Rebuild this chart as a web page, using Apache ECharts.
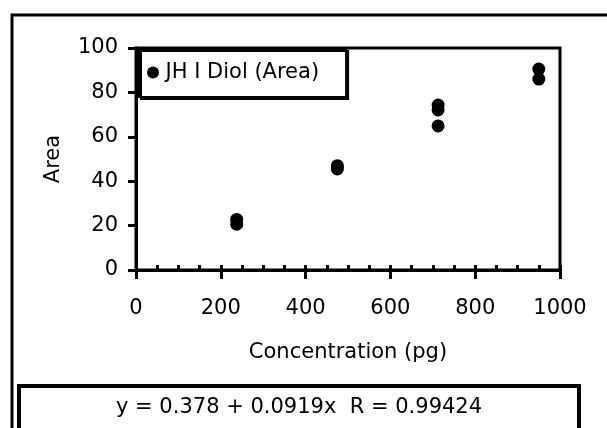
<!DOCTYPE html>
<html>
<head>
<meta charset="utf-8">
<script src="https://cdn.jsdelivr.net/npm/echarts@6/dist/echarts.min.js"></script>
<style>
  html, body { margin: 0; padding: 0; background: #fff; }
  #chart { width: 607px; height: 428px; }
</style>
</head>
<body>
<div id="chart"></div>
<script>
// concentrations (pg) and measured areas, replicates per level
const concentration = [237.5, 237.5, 475, 475, 712.5, 712.5, 712.5, 950, 950];
const area = [22.8, 20.6, 47.0, 45.5, 74.3, 72.1, 64.9, 90.5, 86.0];
const seriesName = 'JH I Diol (Area)';
const fitText = 'y = 0.378 + 0.0919x  R = 0.99424';

const font = 'DejaVu Sans';
const chart = echarts.init(document.getElementById('chart'));

chart.setOption({
  backgroundColor: '#fff',
  animation: false,
  textStyle: { fontFamily: font, color: '#000' },
  // outer frame of the chart, right side runs off the picture
  graphic: [
    {
      type: 'rect',
      shape: { x: 12, y: 15, width: 700, height: 500 },
      style: { fill: 'none', stroke: '#000', lineWidth: 3 },
      z: 0
    }
  ],
  title: {
    text: fitText,
    left: 19,
    top: 386,
    padding: [11, 97, 40, 97],
    borderColor: '#000',
    borderWidth: 4,
    backgroundColor: '#fff',
    textStyle: { fontFamily: font, fontSize: 21, fontWeight: 'normal', color: '#000' }
  },
  legend: {
    left: 139,
    top: 49,
    orient: 'vertical',
    padding: [13, 27, 14, 8],
    itemWidth: 15,
    itemHeight: 12,
    icon: 'circle',
    borderColor: '#000',
    borderWidth: 2,
    backgroundColor: '#fff',
    shadowColor: '#000',
    shadowBlur: 0,
    shadowOffsetX: 2,
    shadowOffsetY: 2,
    textStyle: { fontFamily: font, fontSize: 21, color: '#000' },
    data: [seriesName]
  },
  grid: {
    left: 136,
    top: 48,
    width: 424,
    height: 222,
    show: true,
    borderColor: '#000',
    borderWidth: 3,
    backgroundColor: 'transparent'
  },
  xAxis: [
    {
      type: 'value',
      min: 0,
      max: 1000,
      interval: 200,
      name: 'Concentration (pg)',
      nameLocation: 'middle',
      nameGap: 72,
      nameTextStyle: { fontFamily: font, fontSize: 21, color: '#000' },
      axisLine: { show: true, onZero: false, lineStyle: { color: '#000', width: 3 } },
      axisTick: { show: true, inside: false, length: 9, lineStyle: { color: '#000', width: 3 } },
      axisLabel: { margin: 28, fontFamily: font, fontSize: 21, color: '#000', formatter: v => String(v) },
      splitLine: { show: false }
    },
    {
      // inner ticks every 50
      type: 'value',
      position: 'bottom',
      min: 0,
      max: 1000,
      interval: 50,
      axisLine: { show: false },
      axisTick: { show: true, inside: true, length: 5, lineStyle: { color: '#000', width: 3 } },
      axisLabel: { show: false },
      splitLine: { show: false }
    }
  ],
  yAxis: {
    type: 'value',
    min: 0,
    max: 100,
    interval: 20,
    name: 'Area',
    nameLocation: 'middle',
    nameGap: 72,
    nameTextStyle: { fontFamily: font, fontSize: 21, color: '#000' },
    axisLine: { show: true, onZero: false, lineStyle: { color: '#000', width: 3 } },
    axisTick: { show: true, inside: false, length: 8, lineStyle: { color: '#000', width: 3 } },
    axisLabel: { margin: 18, fontFamily: font, fontSize: 21, color: '#000' },
    splitLine: { show: false }
  },
  series: [
    {
      name: seriesName,
      type: 'scatter',
      xAxisIndex: 0,
      symbol: 'circle',
      symbolSize: 13,
      itemStyle: { color: '#000', opacity: 1 },
      data: concentration.map((c, i) => [c, area[i]])
    }
  ]
});
</script>
</body>
</html>
